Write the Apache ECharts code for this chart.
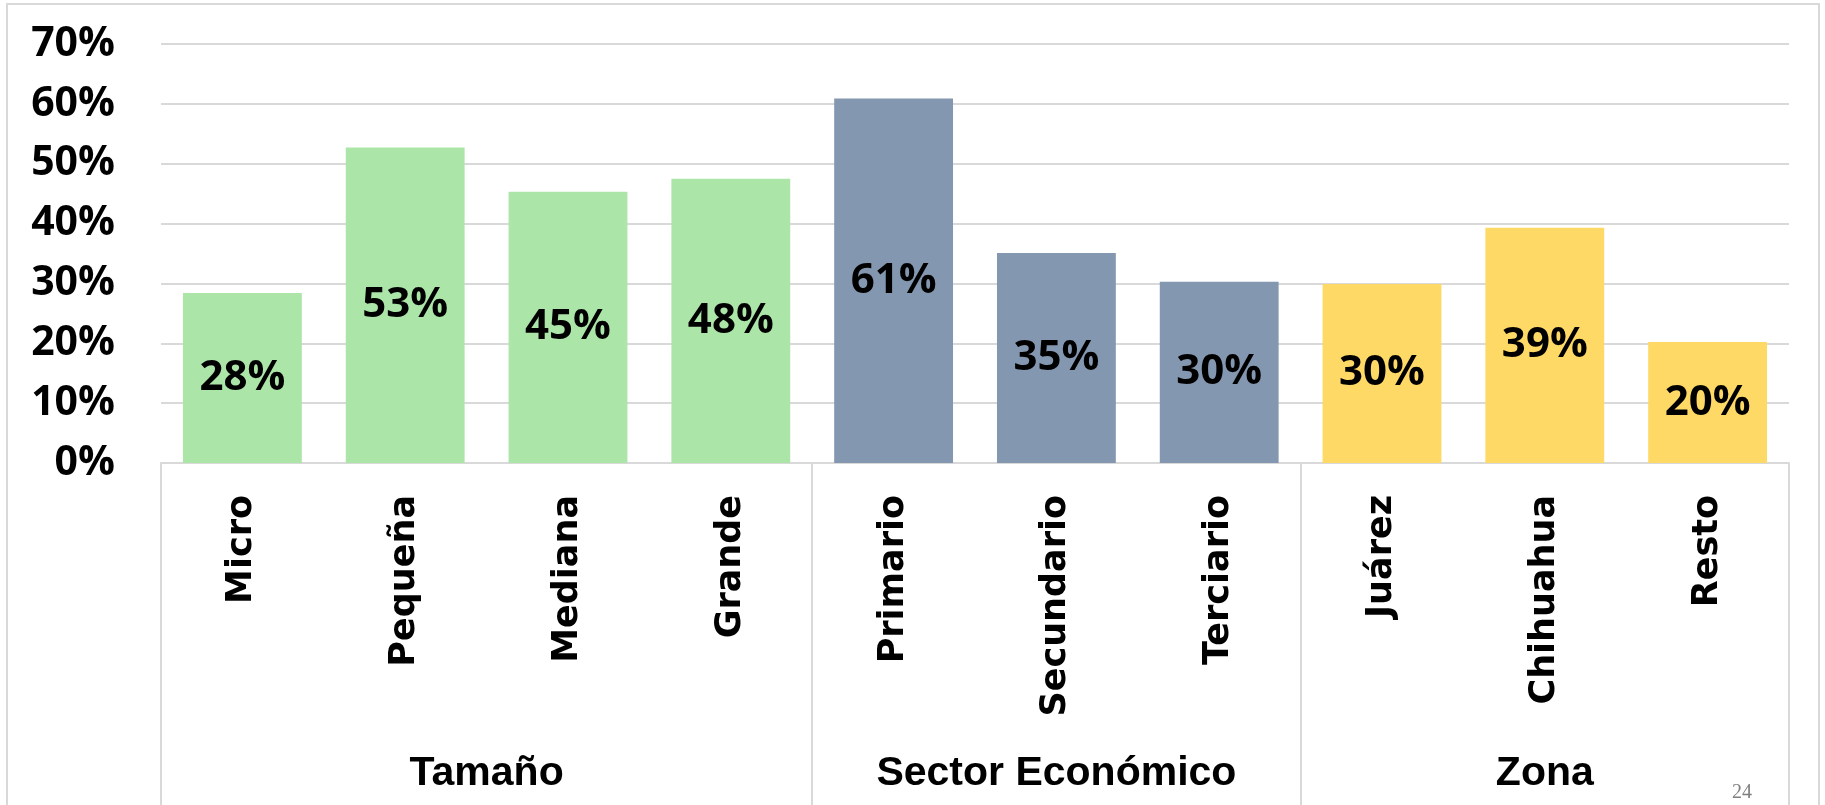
<!DOCTYPE html>
<html>
<head>
<meta charset="utf-8">
<script src="https://cdn.jsdelivr.net/npm/echarts@6/dist/echarts.min.js"></script>
<style>
  html, body { margin: 0; padding: 0; background: #fff; }
  #chart { width: 1825px; height: 805px; }
</style>
</head>
<body>
<div id="chart"></div>
<script>
// datos
var categories = ['Micro', 'Pequeña', 'Mediana', 'Grande', 'Primario', 'Secundario', 'Terciario', 'Juárez', 'Chihuahua', 'Resto'];
var values = [28.4, 52.7, 45.3, 47.5, 60.9, 35.1, 30.3, 29.9, 39.3, 20.2];
var groups = ['Tamaño', 'Sector Económico', 'Zona'];
var groupSizes = [4, 3, 3];
var groupColors = ['#ace5a8', '#8497b0', '#ffd966'];
var yTicks = [0, 10, 20, 30, 40, 50, 60, 70];

// indice de grupo de cada categoria y limites entre grupos
var groupOf = [];
var boundaries = [0];
groupSizes.forEach(function (n, g) {
    for (var i = 0; i < n; i++) groupOf.push(g);
    boundaries.push(boundaries[boundaries.length - 1] + n);
});

var chart = echarts.init(document.getElementById('chart'));

var option = {
    animation: false,
    grid: { left: 161, right: 36, top: 44, bottom: 342 },
    xAxis: {
        type: 'category',
        data: categories,
        axisLine: { lineStyle: { color: '#d9d9d9', width: 2 } },
        axisTick: {
            show: true,
            length: 360,
            interval: function (index) { return boundaries.indexOf(index) >= 0; },
            lineStyle: { color: '#d9d9d9', width: 2 }
        },
        axisLabel: {
            interval: 0,
            rotate: 90,
            margin: 32,
            color: '#000',
            fontFamily: 'DejaVu Sans',
            fontWeight: 'bold',
            fontSize: 35
        }
    },
    yAxis: {
        type: 'value',
        min: yTicks[0],
        max: yTicks[yTicks.length - 1],
        interval: 10,
        axisLine: { show: false },
        axisTick: { show: false },
        splitLine: { lineStyle: { color: '#d9d9d9', width: 2 } },
        axisLabel: {
            formatter: '{value}%',
            margin: 46,
            color: '#000',
            fontFamily: 'Open Sans',
            fontWeight: 'bold',
            fontSize: 41
        }
    },
    series: [{
        type: 'bar',
        barCategoryGap: '27%',
        data: values.map(function (v, i) {
            return { value: v, itemStyle: { color: groupColors[groupOf[i]] } };
        }),
        label: {
            show: true,
            position: 'inside',
            formatter: function (p) { return Math.round(p.value) + '%'; },
            color: '#000',
            fontFamily: 'Open Sans',
            fontWeight: 'bold',
            fontSize: 42
        }
    }]
};

chart.setOption(option);

// etiquetas de grupo debajo de las categorias
var groupTexts = groups.map(function (name, g) {
    var a = chart.convertToPixel({ xAxisIndex: 0 }, boundaries[g]);
    var b = chart.convertToPixel({ xAxisIndex: 0 }, boundaries[g + 1] - 1);
    return {
        type: 'text',
        x: (a + b) / 2,
        y: 774,
        style: {
            text: name,
            fill: '#000',
            font: 'bold 41px "Liberation Sans", Arial',
            textAlign: 'center',
            textVerticalAlign: 'middle'
        }
    };
});

chart.setOption({
    graphic: groupTexts.concat([
        {
            type: 'rect',
            shape: { x: 7, y: 4, width: 1812, height: 900 },
            style: { fill: 'none', stroke: '#d9d9d9', lineWidth: 2 },
            silent: true
        },
        {
            type: 'text',
            x: 1742,
            y: 793,
            style: {
                text: '24',
                fill: '#7f7f7f',
                font: '20px "Liberation Serif"',
                textAlign: 'center',
                textVerticalAlign: 'middle'
            }
        }
    ])
});
</script>
</body>
</html>
